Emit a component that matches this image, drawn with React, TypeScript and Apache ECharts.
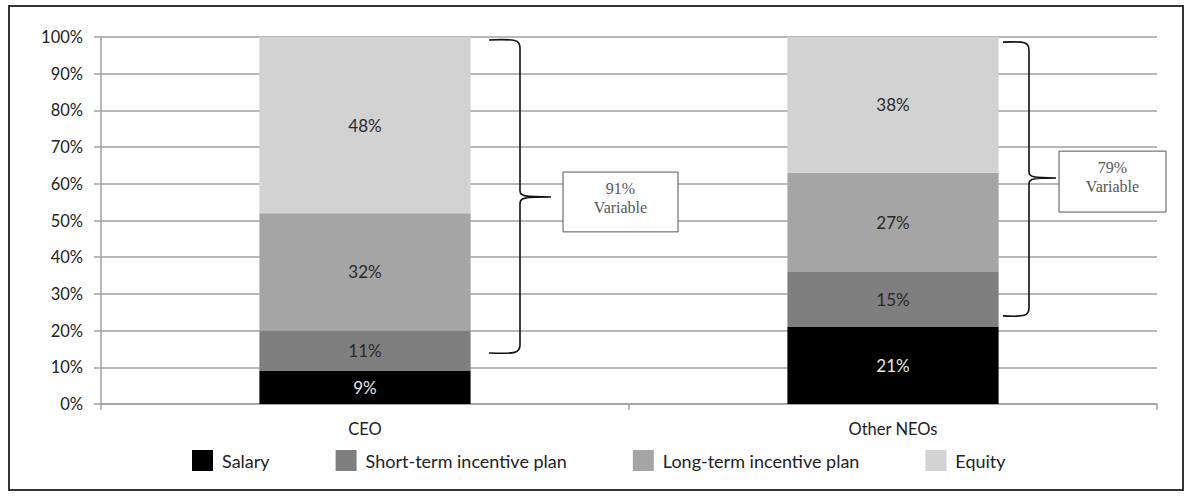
import React, { useEffect, useRef } from "react";
import * as echarts from "echarts";

const categories = ["CEO", "Other NEOs"];
const seriesNames = ["Salary", "Short-term incentive plan", "Long-term incentive plan", "Equity"];
const salary = [9, 21];
const shortTerm = [11, 15];
const longTerm = [32, 27];
const equity = [48, 38];
const yTicks = [0, 10, 20, 30, 40, 50, 60, 70, 80, 90, 100];
// brace annotations (values in %)
const braceTop = [99.2, 98.6];
const braceBottom = [13.9, 24.0];
const braceMid = [56.4, 61.6];
const boxTop = [63.2, 68.9];
const boxBottom = [46.9, 52.3];
const boxLabels = ["91%\nVariable", "79%\nVariable"];

const colors = ["#000000", "#7f7f7f", "#a5a5a5", "#d2d2d2"];
const labelColors = ["#e8e8e8", "#2a2a2a", "#2a2a2a", "#2a2a2a"];
const FONT = "Lato";

export default function App() {
  const ref = useRef<HTMLDivElement>(null);
  useEffect(() => {
    if (!ref.current) return;
    const chart = echarts.init(ref.current, null, { renderer: "svg" });
    const data = [salary, shortTerm, longTerm, equity];
    const option: any = {
      animation: false,
      backgroundColor: "#ffffff",
      grid: { left: 101, right: 30, top: 37, bottom: 92, containLabel: false },
      legend: {
        left: 187,
        top: 445,
        itemWidth: 21,
        itemHeight: 21,
        itemGap: 66,
        icon: "rect",
        textStyle: { fontFamily: FONT, fontSize: 18, color: "#222", padding: [0, 0, 0, 4] },
        data: seriesNames,
      },
      xAxis: {
        type: "category",
        data: categories,
        axisLine: { lineStyle: { color: "#a0a0a0", width: 1.5 } },
        axisTick: { show: true, alignWithLabel: false, length: 6, lineStyle: { color: "#a0a0a0", width: 1.5 } },
        axisLabel: { fontFamily: FONT, fontSize: 16.5, color: "#222", margin: 16 },
      },
      yAxis: {
        type: "value",
        min: 0,
        max: 100,
        interval: 10,
        axisLine: { show: true, lineStyle: { color: "#a0a0a0", width: 1.5 } },
        axisTick: { show: true, inside: false, length: 7, lineStyle: { color: "#a0a0a0", width: 1.5 } },
        splitLine: { lineStyle: { color: "#a0a0a0", width: 1.5 } },
        axisLabel: {
          fontFamily: FONT,
          fontSize: 16.5,
          color: "#222",
          margin: 18,
          formatter: (v: number) => (yTicks.includes(v) ? v + "%" : ""),
        },
      },
      series: seriesNames.map((name, i) => ({
        name,
        type: "bar",
        stack: "total",
        barWidth: "40%",
        data: data[i],
        itemStyle: { color: colors[i] },
        label: {
          show: true,
          position: "inside",
          formatter: "{c}%",
          fontFamily: FONT,
          fontSize: 17,
          color: labelColors[i],
        },
      })),
    };
    chart.setOption(option);

    const graphics: any[] = [
      {
        type: "rect",
        shape: { x: 9, y: 6, width: 1174, height: 484 },
        style: { fill: "none", stroke: "#333", lineWidth: 2 },
        silent: true,
      },
    ];
    const offsets = [
      { end: 124, vert: 155, tip: 186, boxL: 198, boxW: 115 },
      { end: 110, vert: 136, tip: 163, boxL: 166, boxW: 107 },
    ];
    categories.forEach((c, i) => {
      const cx = chart.convertToPixel({ xAxisIndex: 0 }, c) as number;
      const yT = chart.convertToPixel({ yAxisIndex: 0 }, braceTop[i]) as number;
      const yB = chart.convertToPixel({ yAxisIndex: 0 }, braceBottom[i]) as number;
      const yM = chart.convertToPixel({ yAxisIndex: 0 }, braceMid[i]) as number;
      const o = offsets[i];
      const x0 = cx + o.end;
      const x1 = cx + o.vert;
      const xt = cx + o.tip;
      const d =
        `M ${x0} ${yT} C ${x1 - 4} ${yT - 1}, ${x1} ${yT}, ${x1} ${yT + 8} ` +
        `L ${x1} ${yM - 6} C ${x1} ${yM - 1}, ${x1 + 4} ${yM}, ${xt} ${yM} ` +
        `C ${x1 + 4} ${yM}, ${x1} ${yM + 1}, ${x1} ${yM + 6} ` +
        `L ${x1} ${yB - 8} C ${x1} ${yB}, ${x1 - 4} ${yB + 1}, ${x0} ${yB}`;
      const name = "brace" + i;
      echarts.graphic.registerShape(name, echarts.graphic.extendPath(d, {}) as any);
      graphics.push({
        type: name,
        x: 0,
        y: 0,
        style: { fill: "none", stroke: "#111", lineWidth: 1.6 },
        silent: true,
      });
      const bT = chart.convertToPixel({ yAxisIndex: 0 }, boxTop[i]) as number;
      const bB = chart.convertToPixel({ yAxisIndex: 0 }, boxBottom[i]) as number;
      const bx = cx + o.boxL;
      graphics.push({
        type: "rect",
        shape: { x: bx, y: bT, width: o.boxW, height: bB - bT },
        style: { fill: "#ffffff", stroke: "#555", lineWidth: 1 },
        silent: true,
      });
      graphics.push({
        type: "text",
        x: bx + o.boxW / 2,
        y: bT + 7,
        style: {
          text: boxLabels[i],
          fontFamily: "Liberation Serif",
          fontSize: 16,
          lineHeight: 19,
          fill: "#555",
          align: "center",
          verticalAlign: "top",
        },
        silent: true,
      });
    });
    chart.setOption({ graphic: graphics });
    return () => chart.dispose();
  }, []);
  return (
    <div
      ref={ref}
      style={{ position: "absolute", left: 0, top: 0, width: 1187, height: 496 }}
    />
  );
}
